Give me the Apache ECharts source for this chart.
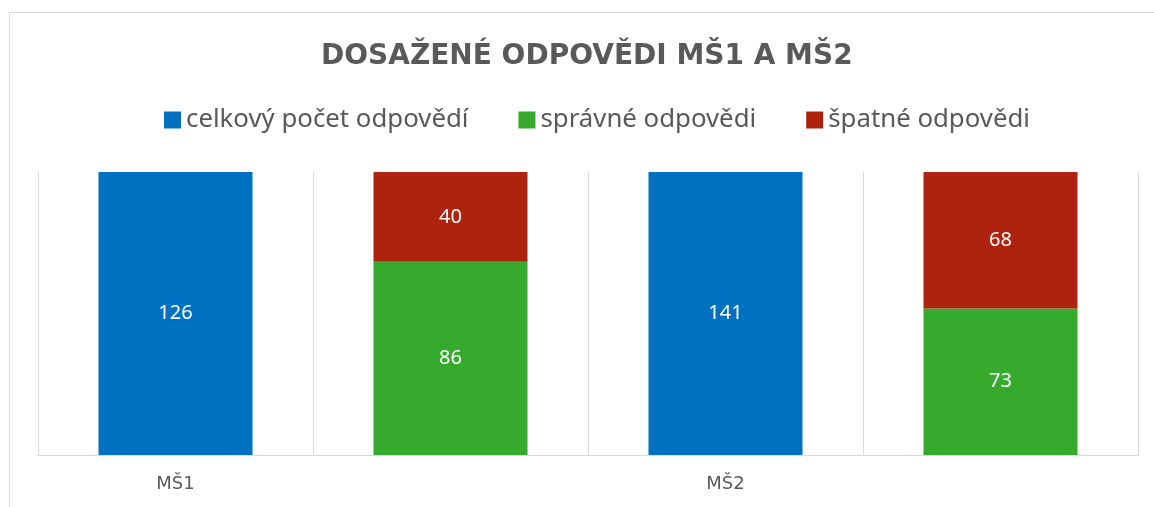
<!DOCTYPE html>
<html>
<head>
<meta charset="utf-8">
<script src="https://cdn.jsdelivr.net/npm/echarts@6/dist/echarts.min.js"></script>
<style>html,body{margin:0;padding:0;background:#fff;}#c{width:1154px;height:507px;}</style>
</head>
<body>
<div id="c"></div>
<script>
const categories = ['MŠ1', '', 'MŠ2', ''];
const seriesNames = ['celkový počet odpovědí', 'správné odpovědi', 'špatné odpovědi'];
const totalValues = [126, null, 141, null];
const correctValues = [null, 86, null, 73];
const wrongValues = [null, 40, null, 68];
const colors = ['#0070C0', '#35AA2D', '#AE230E'];

const raw = [totalValues, correctValues, wrongValues];
const sums = categories.map((_, i) => raw.reduce((s, arr) => s + (arr[i] || 0), 0));
const pct = arr => arr.map((v, i) => v == null ? '-' : { value: v / sums[i] * 100, raw: v });

const chart = echarts.init(document.getElementById('c'), null, { renderer: 'canvas' });
chart.setOption({
  animation: false,
  backgroundColor: '#fff',
  title: {
    text: 'DOSAŽENÉ ODPOVĚDI MŠ1 A MŠ2',
    left: 316,
    top: 38,
    textStyle: { fontFamily: 'DejaVu Sans', fontWeight: 'bold', fontSize: 28, color: '#595959' }
  },
  legend: {
    top: 102,
    left: 159,
    itemWidth: 17,
    itemHeight: 17,
    itemGap: 50,
    icon: 'rect',
    textStyle: { fontFamily: 'Noto Sans', fontSize: 25.8, color: '#595959' },
    data: seriesNames
  },
  grid: { left: 38, right: 16, top: 172, bottom: 52 },
  xAxis: {
    type: 'category',
    data: categories,
    axisLine: { lineStyle: { color: '#D9D9D9', width: 1 } },
    axisTick: { show: false },
    splitLine: { show: true, lineStyle: { color: '#D9D9D9', width: 1 } },
    axisLabel: { fontFamily: 'DejaVu Sans', fontSize: 18, color: '#595959', margin: 20 }
  },
  yAxis: {
    type: 'value', min: 0, max: 100,
    show: false, splitLine: { show: false }
  },
  graphic: [{
    type: 'rect', z: -1, silent: true,
    shape: { x: 9.5, y: 12.5, width: 1200, height: 600 },
    style: { fill: 'none', stroke: '#D9D9D9', lineWidth: 1 }
  }],
  series: raw.map((arr, k) => ({
    name: seriesNames[k],
    type: 'bar',
    stack: 'all',
    barCategoryGap: '44%',
    itemStyle: { color: colors[k] },
    label: {
      show: true, position: 'inside', color: '#fff',
      fontFamily: 'Noto Sans', fontSize: 20,
      formatter: p => p.data && p.data.raw != null ? String(p.data.raw) : ''
    },
    data: pct(arr)
  }))
});
</script>
</body>
</html>
